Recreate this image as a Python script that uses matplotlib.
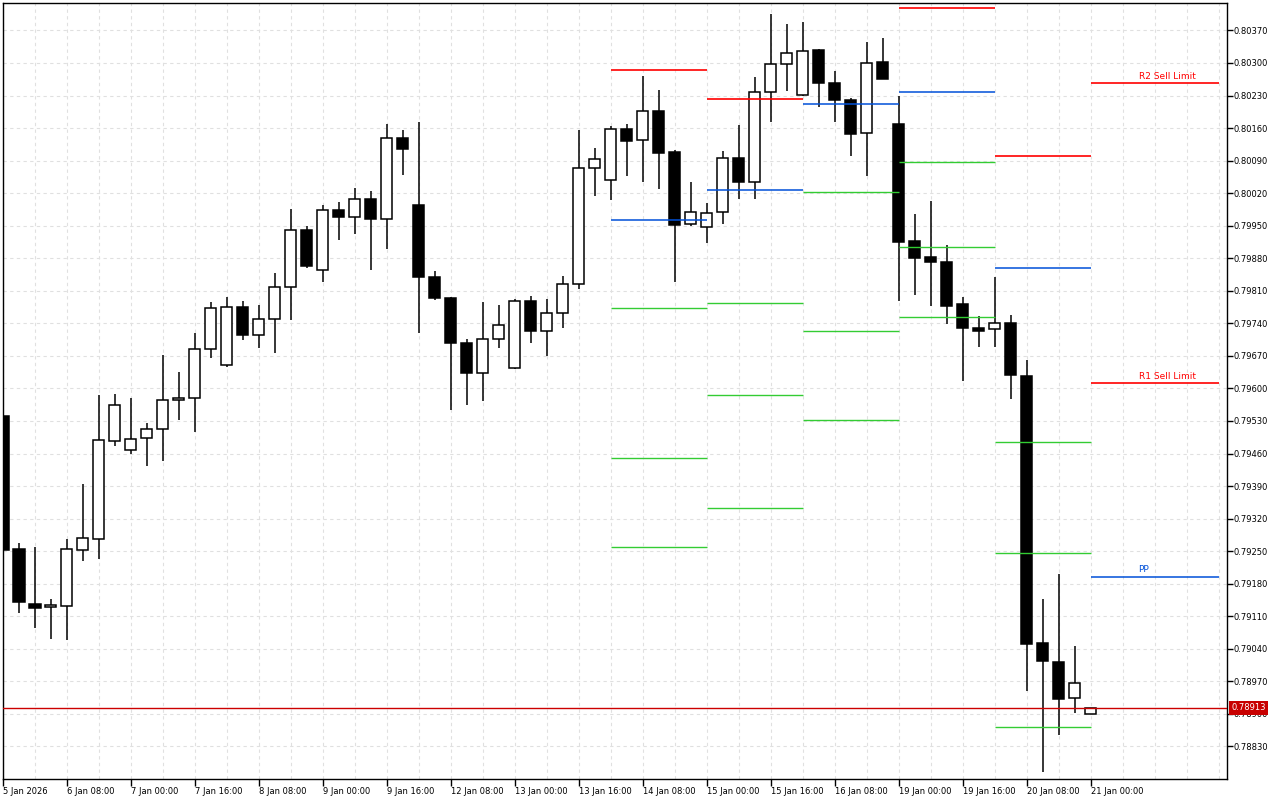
import matplotlib
matplotlib.use("Agg")
import matplotlib.pyplot as plt
import matplotlib.transforms as mtransforms

# H4 bars, 5 Jan 16:00 .. 21 Jan 00:00
opens = [0.79541, 0.79255, 0.79137, 0.79129, 0.79133, 0.79253, 0.79277, 0.79487, 0.79467, 0.79493,
         0.79512, 0.79575, 0.79579, 0.79685, 0.79651, 0.79775, 0.79715, 0.79750, 0.79818, 0.79941,
         0.79855, 0.79984, 0.79969, 0.80008, 0.79965, 0.80139, 0.79995, 0.79840, 0.79795, 0.79698,
         0.79634, 0.79707, 0.79644, 0.79788, 0.79724, 0.79763, 0.79825, 0.80074, 0.80048, 0.80158,
         0.80134, 0.80197, 0.80109, 0.79953, 0.79947, 0.79979, 0.80096, 0.80044, 0.80237, 0.80297,
         0.80231, 0.80328, 0.80257, 0.80221, 0.80149, 0.80302, 0.80169, 0.79917, 0.79883, 0.79872,
         0.79782, 0.79730, 0.79727, 0.79741, 0.79627, 0.79053, 0.79012, 0.78934, 0.78900]
closes = [0.79253, 0.79141, 0.79128, 0.79134, 0.79254, 0.79278, 0.79489, 0.79564, 0.79491, 0.79512,
          0.79575, 0.79579, 0.79685, 0.79773, 0.79775, 0.79715, 0.79750, 0.79818, 0.79941, 0.79864,
          0.79984, 0.79969, 0.80008, 0.79965, 0.80139, 0.80115, 0.79840, 0.79795, 0.79698, 0.79634,
          0.79707, 0.79737, 0.79788, 0.79724, 0.79763, 0.79825, 0.80074, 0.80094, 0.80158, 0.80133,
          0.80197, 0.80107, 0.79952, 0.79979, 0.79977, 0.80095, 0.80043, 0.80237, 0.80297, 0.80321,
          0.80325, 0.80256, 0.80221, 0.80148, 0.80300, 0.80266, 0.79916, 0.79881, 0.79871, 0.79778,
          0.79729, 0.79724, 0.79740, 0.79628, 0.79051, 0.79013, 0.78933, 0.78966, 0.78913]
highs = [0.79545, 0.79268, 0.79259, 0.79147, 0.79276, 0.79395, 0.79586, 0.79588, 0.79580, 0.79526,
         0.79672, 0.79636, 0.79720, 0.79786, 0.79797, 0.79788, 0.79780, 0.79849, 0.79986, 0.79950,
         0.79995, 0.80001, 0.80031, 0.80025, 0.80169, 0.80156, 0.80173, 0.79853, 0.79797, 0.79707,
         0.79786, 0.79780, 0.79793, 0.79799, 0.79793, 0.79842, 0.80156, 0.80117, 0.80165, 0.80169,
         0.80273, 0.80242, 0.80113, 0.80044, 0.79999, 0.80111, 0.80167, 0.80270, 0.80406, 0.80384,
         0.80388, 0.80330, 0.80283, 0.80225, 0.80345, 0.80354, 0.80230, 0.79975, 0.80003, 0.79909,
         0.79797, 0.79756, 0.79840, 0.79758, 0.79661, 0.79147, 0.79201, 0.79046, 0.78913]
lows = [0.79251, 0.79117, 0.79085, 0.79061, 0.79058, 0.79228, 0.79234, 0.79477, 0.79458, 0.79434,
        0.79445, 0.79533, 0.79507, 0.79666, 0.79646, 0.79704, 0.79687, 0.79676, 0.79747, 0.79859,
        0.79829, 0.79920, 0.79932, 0.79855, 0.79900, 0.80059, 0.79720, 0.79790, 0.79554, 0.79565,
        0.79573, 0.79687, 0.79642, 0.79698, 0.79670, 0.79730, 0.79814, 0.80013, 0.80006, 0.80056,
        0.80045, 0.80030, 0.79830, 0.79950, 0.79912, 0.79953, 0.80008, 0.80008, 0.80172, 0.80240,
        0.80229, 0.80206, 0.80172, 0.80101, 0.80056, 0.80265, 0.79789, 0.79802, 0.79778, 0.79738,
        0.79616, 0.79690, 0.79690, 0.79578, 0.78950, 0.78776, 0.78854, 0.78901, 0.78899]

time_labels = ["5 Jan 2026", "6 Jan 08:00", "7 Jan 00:00", "7 Jan 16:00", "8 Jan 08:00",
               "9 Jan 00:00", "9 Jan 16:00", "12 Jan 08:00", "13 Jan 00:00", "13 Jan 16:00",
               "14 Jan 08:00", "15 Jan 00:00", "15 Jan 16:00", "16 Jan 08:00", "19 Jan 00:00",
               "19 Jan 16:00", "20 Jan 08:00", "21 Jan 00:00"]

# daily pivot segments (bar index start/end)
day_start = [38, 44, 50, 56, 62, 68]
day_end = [44, 50, 56, 62, 68, 76]
red_levels = [[0.80285], [0.80223], [], [0.80418], [0.80100], [0.80257, 0.79612]]
blue_levels = [[0.79962], [0.80027], [0.80212], [0.80238], [0.79859], [0.79195]]
green_levels = [[0.79773, 0.79451, 0.79259], [0.79784, 0.79586, 0.79343],
                [0.80023, 0.79724, 0.79532], [0.80087, 0.79904, 0.79754],
                [0.79485, 0.79246, 0.78872], []]
level_names = ["R2 Sell Limit", "R1 Sell Limit", "PP"]
level_values = [0.80257, 0.79612, 0.79195]
level_colors = ["#ff0000", "#ff0000", "#0050d8"]

last_price = 0.78913
price_ticks = [0.78830 + 0.0007 * k for k in range(23)]

plt.rcParams['font.family'] = ['DejaVu Sans']

fig = plt.figure(figsize=(12.8, 8), dpi=100)
ax = fig.add_axes([3 / 1280, 21 / 800, 1224 / 1280, 776 / 800])
ax.set_xlim(0.03, 76.53)
ax.set_ylim(0.78760, 0.80429)

n = len(opens)
idx = list(range(n))

# candles
ax.vlines(idx, lows, highs, color="black", lw=1.1, zorder=2)
bottoms = [min(o, c) for o, c in zip(opens, closes)]
heights = [max(abs(c - o), 0.00002) for o, c in zip(opens, closes)]
fills = ["white" if c >= o else "black" for o, c in zip(opens, closes)]
ax.bar(idx, heights, bottom=bottoms, width=0.69, color=fills,
       edgecolor="black", linewidth=1.1, zorder=3)

# pivot levels
for k in range(len(day_start)):
    for v in red_levels[k]:
        ax.hlines(v, day_start[k], day_end[k], color="#ff0000", lw=1.2, zorder=4)
    for v in blue_levels[k]:
        ax.hlines(v, day_start[k], day_end[k], color="#0050d8", lw=1.1, zorder=4)
    for v in green_levels[k]:
        ax.hlines(v, day_start[k], day_end[k], color="#33cc33", lw=1.0, zorder=4)

for name, v, col in zip(level_names, level_values, level_colors):
    ax.text(71, v + 0.00005, name, color=col, fontsize=6.5, ha="left", va="bottom", zorder=5)

# current price
ax.axhline(last_price, color="#cc0000", lw=1, zorder=4)
trans = mtransforms.blended_transform_factory(ax.transAxes, ax.transData)
ax.text(1 + 4 / 1224, last_price, f"{last_price:.5f}", transform=trans, color="white",
        fontsize=6, ha="left", va="center", zorder=6, clip_on=False,
        bbox=dict(facecolor="#c80000", edgecolor="none", pad=1.6))

# axes
ax.set_xticks(range(0, 69, 4))
ax.set_xticklabels(time_labels, fontsize=6, ha="left")
ax.set_xticks([i for i in range(2, 77, 2) if i % 4 != 0 or i > 68], minor=True)
ax.tick_params(axis="x", which="major", direction="out", length=5, width=1, pad=1)
ax.tick_params(axis="x", which="minor", length=0)

ax.yaxis.tick_right()
ax.set_yticks(price_ticks)
ax.set_yticklabels([f"{p:.5f}" for p in price_ticks], fontsize=6)
ax.tick_params(axis="y", direction="out", length=4, width=1, pad=1)

ax.set_axisbelow(True)
ax.grid(True, which="both", color="#e0e0e0", linestyle=(0, (3, 3)), lw=0.8)
for s in ax.spines.values():
    s.set_color("black")
    s.set_linewidth(1)

fig.savefig("out.png", dpi=100)
